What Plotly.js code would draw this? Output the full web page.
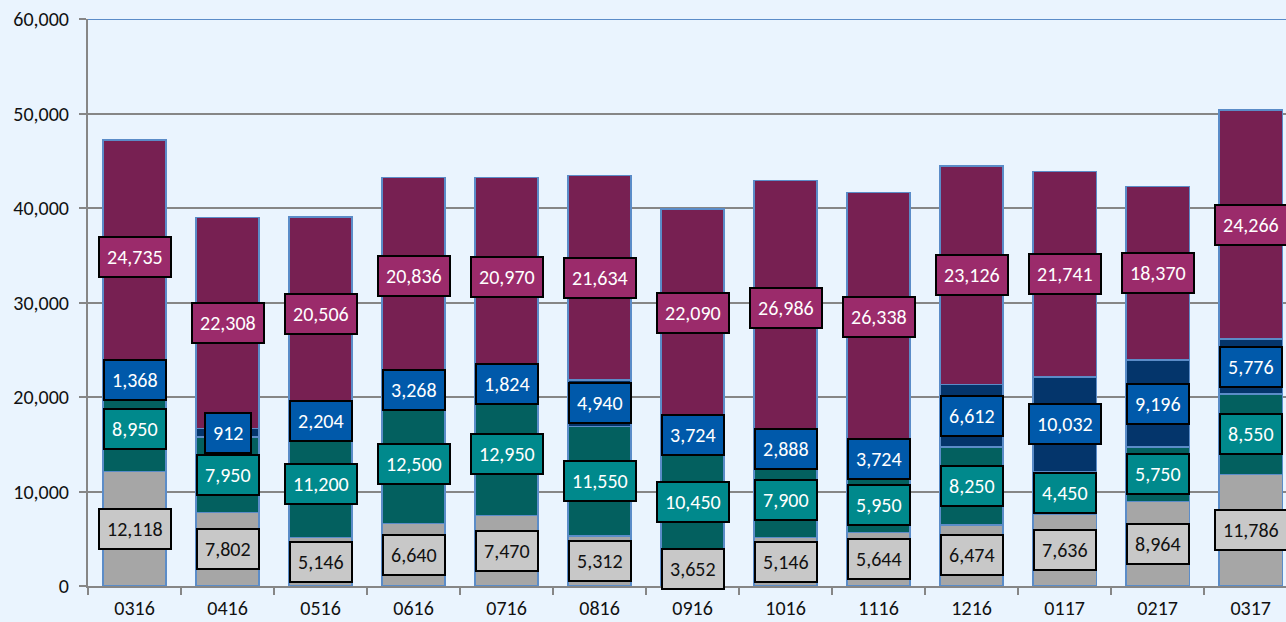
<!DOCTYPE html>
<html>
<head>
<meta charset="utf-8">
<script src="https://cdn.plot.ly/plotly-3.0.1.min.js"></script>
<style>
  html, body { margin: 0; padding: 0; background: #eaf4fe; }
  #chart { width: 1286px; height: 622px; }
</style>
</head>
<body>
<div id="chart"></div>
<script>
const categories = ['0316','0416','0516','0616','0716','0816','0916','1016','1116','1216','0117','0217','0317'];
const graySeries   = [12118, 7802, 5146, 6640, 7470, 5312, 3652, 5146, 5644, 6474, 7636, 8964, 11786];
const tealSeries   = [8950, 7950, 11200, 12500, 12950, 11550, 10450, 7900, 5950, 8250, 4450, 5750, 8550];
const blueSeries   = [1368, 912, 2204, 3268, 1824, 4940, 3724, 2888, 3724, 6612, 10032, 9196, 5776];
const purpleSeries = [24735, 22308, 20506, 20836, 20970, 21634, 22090, 26986, 26338, 23126, 21741, 18370, 24266];
const yTickVals = [0, 10000, 20000, 30000, 40000, 50000, 60000];
const yTickText = ['0', '10,000', '20,000', '30,000', '40,000', '50,000', '60,000'];

const FONT = 'Carlito, Lato, sans-serif';
const seriesDefs = [
  {name: 'A', y: graySeries,   bar: '#a6a6a6', box: '#c8c8c8', txt: '#111111'},
  {name: 'B', y: tealSeries,   bar: '#03605f', box: '#00898c', txt: '#ffffff'},
  {name: 'C', y: blueSeries,   bar: '#04356b', box: '#0059aa', txt: '#ffffff'},
  {name: 'D', y: purpleSeries, bar: '#772052', box: '#9b2b6b', txt: '#ffffff'}
];

const traces = seriesDefs.map(s => ({
  type: 'bar', name: s.name, x: categories, y: s.y,
  marker: {color: s.bar, line: {color: '#5b8cc8', width: 1.5}},
  hoverinfo: 'none'
}));

function fmt(v) { return v.toLocaleString('en-US'); }

const annotations = [];
const base = categories.map(() => 0);
seriesDefs.forEach(s => {
  s.y.forEach((v, i) => {
    annotations.push({
      x: i, y: base[i] + v / 2, xref: 'x', yref: 'y',
      text: fmt(v), showarrow: false,
      font: {family: FONT, size: 20, color: s.txt},
      bgcolor: s.box, bordercolor: '#000000', borderwidth: 2, borderpad: 7,
      xanchor: 'center', yanchor: 'middle'
    });
    base[i] += v;
  });
});

const layout = {
  width: 1286, height: 622,
  margin: {l: 88, r: 0, t: 19, b: 36},
  paper_bgcolor: '#eaf4fe', plot_bgcolor: '#eaf4fe',
  barmode: 'stack', bargap: 0.32, showlegend: false,
  font: {family: FONT, size: 20, color: '#111111'},
  xaxis: {
    type: 'category', range: [-0.5, 12.38],
    showgrid: false, zeroline: false,
    showline: true, linecolor: '#868686', linewidth: 2,
    ticks: 'outside', tickson: 'boundaries', ticklen: 7, tickcolor: '#868686', tickwidth: 2,
    ticklabelstandoff: 3,
    tickfont: {family: FONT, size: 20, color: '#111111'}
  },
  yaxis: {
    range: [0, 60000], tickvals: yTickVals, ticktext: yTickText,
    showgrid: true, gridcolor: '#868686', gridwidth: 2, zeroline: false,
    showline: true, linecolor: '#868686', linewidth: 2,
    ticks: 'outside', ticklen: 7, tickcolor: '#868686', tickwidth: 2,
    ticklabelstandoff: 6,
    tickfont: {family: FONT, size: 20, color: '#111111'}
  },
  shapes: [{
    type: 'line', xref: 'paper', yref: 'y', x0: 0, x1: 1, y0: 60000, y1: 60000,
    line: {color: '#5b8cc8', width: 2}
  }],
  annotations: annotations
};

Plotly.newPlot('chart', traces, layout, {displayModeBar: false, staticPlot: true});
</script>
</body>
</html>
